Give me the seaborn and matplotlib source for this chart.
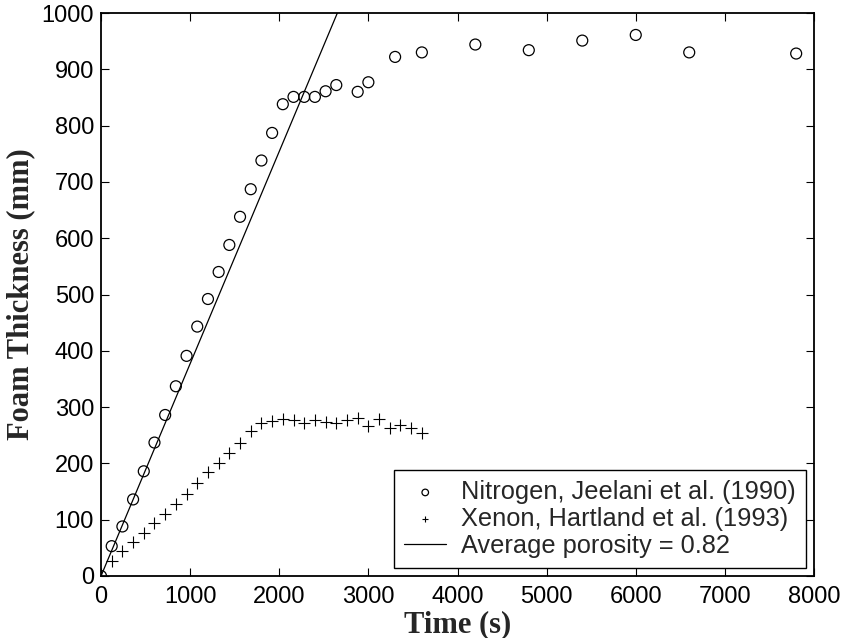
import matplotlib
matplotlib.use("Agg")
import matplotlib.pyplot as plt
import seaborn as sns
import pandas as pd

# Foam growth measurements (time in s, thickness in mm)
nitrogen_time = [0, 120, 240, 360, 480, 600, 720, 840, 960, 1080, 1200, 1320, 1440,
                 1560, 1680, 1800, 1920, 2040, 2160, 2280, 2400, 2520, 2640, 2880,
                 3000, 3300, 3600, 4200, 4800, 5400, 6000, 6600, 7800]
nitrogen_thickness = [0, 53, 88, 136, 186, 237, 286, 337, 391, 443, 492, 540, 588,
                      638, 687, 738, 787, 838, 851, 851, 851, 861, 872, 860,
                      877, 922, 930, 944, 934, 951, 961, 930, 928]

xenon_time = [0, 120, 240, 360, 480, 600, 720, 840, 960, 1080, 1200, 1320, 1440,
              1560, 1680, 1800, 1920, 2040, 2160, 2280, 2400, 2520, 2640, 2760,
              2880, 3000, 3120, 3240, 3360, 3480, 3600]
xenon_thickness = [0, 27, 44, 60, 77, 94, 111, 128, 146, 165, 184, 201, 219,
                   236, 258, 271, 275, 279, 277, 272, 277, 274, 271, 277,
                   281, 266, 278, 263, 268, 262, 254]

# Model line for average porosity 0.82
model_time = [0, 2652]
model_thickness = [0, 1000]

labels = ["Nitrogen, Jeelani et al. (1990)",
          "Xenon, Hartland et al. (1993)",
          "Average porosity = 0.82"]

sns.set_theme(style="ticks")
plt.rcParams["font.family"] = ["Liberation Sans", "DejaVu Sans"]
plt.rcParams["xtick.direction"] = "in"
plt.rcParams["ytick.direction"] = "in"

fig = plt.figure(figsize=(8.46, 6.38), dpi=100)
ax = fig.add_axes([101 / 846, 1 - 576 / 638, 713 / 846, 563 / 638])

n_df = pd.DataFrame({"t": nitrogen_time, "h": nitrogen_thickness})
x_df = pd.DataFrame({"t": xenon_time, "h": xenon_thickness})
m_df = pd.DataFrame({"t": model_time, "h": model_thickness})

sns.scatterplot(data=n_df, x="t", y="h", ax=ax, marker="o", s=62,
                facecolors="none", edgecolor="black", linewidth=0.9,
                label=labels[0], zorder=3)
sns.scatterplot(data=x_df, x="t", y="h", ax=ax, marker="+", s=70,
                color="black", linewidth=0.8, label=labels[1], zorder=3)
sns.lineplot(data=m_df, x="t", y="h", ax=ax, color="black", linewidth=0.9,
             label=labels[2], zorder=2)

ax.set_xlim(0, 8000)
ax.set_ylim(0, 1000)
ax.set_xticks(range(0, 8001, 1000))
ax.set_yticks(range(0, 1001, 100))
ax.tick_params(axis="both", which="both", labelsize=17, length=6, width=0.8,
               top=True, right=True, colors="black")
ax.tick_params(axis="x", pad=7)
ax.tick_params(axis="y", pad=5)
for sp in ax.spines.values():
    sp.set_visible(True)
    sp.set_linewidth(1.3)
    sp.set_color("black")

serif = ["Liberation Serif", "DejaVu Serif"]
ax.set_xlabel("Time (s)", fontsize=22, fontweight="bold", family=serif)
ax.set_ylabel("Foam Thickness (mm)", fontsize=22, fontweight="bold", family=serif)
ax.xaxis.set_label_coords(0.5, -0.060)
ax.yaxis.set_label_coords(-0.092, 0.5)

handles, lbls = ax.get_legend_handles_labels()
leg = ax.legend(handles, lbls, loc="lower right", fontsize=18.3, frameon=True,
                fancybox=False, edgecolor="black", framealpha=1,
                markerscale=0.6, handlelength=1.65, handletextpad=0.6,
                borderpad=0.4, labelspacing=0.12, borderaxespad=0.3)
leg.get_frame().set_linewidth(1.0)

fig.savefig("out.png", dpi=100, facecolor="white")
